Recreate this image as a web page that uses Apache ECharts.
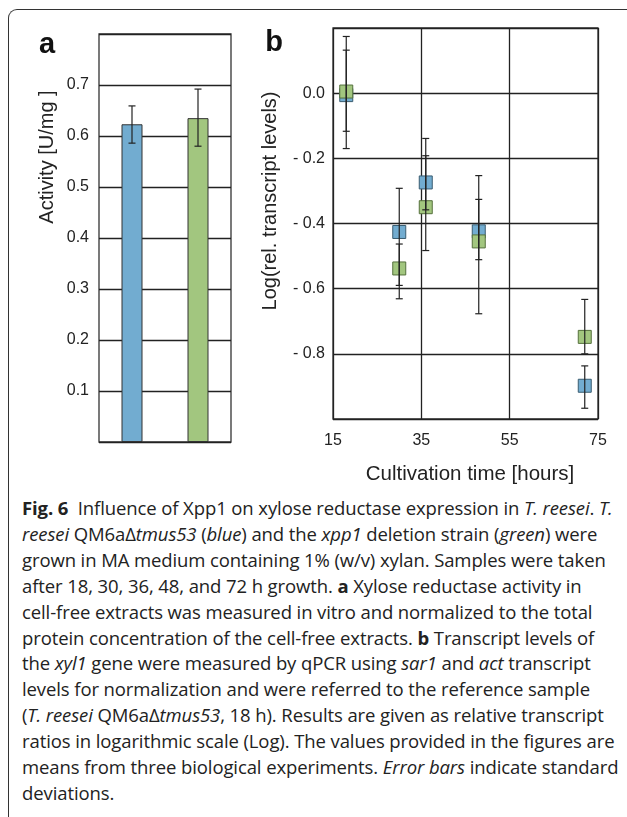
<!DOCTYPE html>
<html>
<head>
<meta charset="utf-8">
<script src="https://cdn.jsdelivr.net/npm/echarts@6/dist/echarts.min.js"></script>
<style>
  html, body { margin: 0; padding: 0; background: #fff; }
  #frame {
    position: absolute; left: 8px; top: 9px; width: 640px; height: 820px;
    border-top: 1.5px solid #333; border-left: 1.5px solid #333;
    border-top-left-radius: 9px;
  }
  #chart { position: absolute; left: 0; top: 0; width: 627px; height: 490px; }
  #caption {
    position: absolute; left: 22px; top: 495px; width: 610px;
    font-family: "Open Sans", sans-serif; font-size: 18.5px; color: #222;
    line-height: 25.9px; white-space: nowrap; letter-spacing: -0.1px;
  }
  #caption b { font-weight: 700; }
</style>
</head>
<body>
<div id="frame"></div>
<div id="chart"></div>
<div id="caption">
  <div><b>Fig. 6</b>&nbsp; Influence of Xpp1 on xylose reductase expression in <i>T. reesei</i>. <i>T.</i></div>
  <div><i>reesei</i> QM6aΔ<i>tmus53</i> (<i>blue</i>) and the <i>xpp1</i> deletion strain (<i>green</i>) were</div>
  <div>grown in MA medium containing 1% (w/v) xylan. Samples were taken</div>
  <div>after 18, 30, 36, 48, and 72 h growth. <b>a</b> Xylose reductase activity in</div>
  <div>cell-free extracts was measured in vitro and normalized to the total</div>
  <div>protein concentration of the cell-free extracts. <b>b</b> Transcript levels of</div>
  <div>the <i>xyl1</i> gene were measured by qPCR using <i>sar1</i> and <i>act</i> transcript</div>
  <div>levels for normalization and were referred to the reference sample</div>
  <div>(<i>T. reesei</i> QM6aΔ<i>tmus53</i>, 18 h). Results are given as relative transcript</div>
  <div>ratios in logarithmic scale (Log). The values provided in the figures are</div>
  <div>means from three biological experiments. <i>Error bars</i> indicate standard</div>
  <div>deviations.</div>
</div>
<script>
// panel a: activity
var strains = ['QM6a Δtmus53', 'Δxpp1'];
var activity = [0.623, 0.635];
var activityLow = [0.586, 0.580];
var activityHigh = [0.659, 0.692];

// panel b: log transcript levels
var hours = [18, 30, 36, 48, 72];
var logBlue = [-0.006, -0.426, -0.274, -0.424, -0.898];
var blueLow = [-0.170, -0.590, -0.358, -0.511, -0.967];
var blueHigh = [0.174, -0.292, -0.192, -0.326, -0.837];
var logGreen = [0.005, -0.538, -0.350, -0.455, -0.748];
var greenLow = [-0.117, -0.631, -0.483, -0.677, -0.800];
var greenHigh = [0.132, -0.463, -0.139, -0.253, -0.633];

var BLUE = '#72acd0';
var GREEN = '#a2c67f';
var FONT = 'Liberation Sans';

var chart = echarts.init(document.getElementById('chart'));

function errBar(capW) {
    return function (params, api) {
        var x = api.value(0);
        var lo = api.coord([x, api.value(1)]);
        var hi = api.coord([x, api.value(2)]);
        var st = { stroke: '#222', lineWidth: 1.2 };
        return {
            type: 'group',
            children: [
                { type: 'line', shape: { x1: lo[0], y1: lo[1], x2: hi[0], y2: hi[1] }, style: st },
                { type: 'line', shape: { x1: lo[0] - capW, y1: lo[1], x2: lo[0] + capW, y2: lo[1] }, style: st },
                { type: 'line', shape: { x1: hi[0] - capW, y1: hi[1], x2: hi[0] + capW, y2: hi[1] }, style: st }
            ]
        };
    };
}

var barData = activity.map(function (v, i) {
    return { value: v, itemStyle: { color: i === 0 ? BLUE : GREEN } };
});
var barErr = activity.map(function (v, i) { return [i, activityLow[i], activityHigh[i]]; });

function pts(ys) { return hours.map(function (h, i) { return [h, ys[i]]; }); }
function errs(lo, hi) { return hours.map(function (h, i) { return [h, lo[i], hi[i]]; }); }

chart.setOption({
    animation: false,
    textStyle: { fontFamily: FONT },
    grid: [
        { left: 99, top: 34, width: 132, height: 408, show: true, borderColor: '#333', borderWidth: 1.3 },
        { left: 333, top: 28, width: 265, height: 392, show: true, borderColor: '#333', borderWidth: 1.3 }
    ],
    xAxis: [
        {
            type: 'category', gridIndex: 0, data: strains,
            axisLine: { show: false }, axisTick: { show: false }, axisLabel: { show: false }
        },
        {
            type: 'value', gridIndex: 1, min: 15, max: 75, interval: 20,
            axisLine: { show: false }, axisTick: { show: false },
            axisLabel: { color: '#222', fontSize: 16, margin: 14, fontFamily: FONT },
            splitLine: { show: true, lineStyle: { color: '#222', width: 1.3 } },
            name: 'Cultivation time [hours]', nameLocation: 'middle', nameGap: 45,
            nameTextStyle: { color: '#222', fontSize: 20.5, fontFamily: FONT, padding: [0, 0, 0, 9] }
        }
    ],
    yAxis: [
        {
            type: 'value', gridIndex: 0, min: 0, max: 0.8, interval: 0.1,
            axisLine: { show: false }, axisTick: { show: false },
            axisLabel: {
                color: '#222', fontSize: 16, margin: 10, fontFamily: FONT,
                formatter: function (v) { return (v < 0.05 || v > 0.75) ? '' : v.toFixed(1); }
            },
            splitLine: { show: true, lineStyle: { color: '#222', width: 1.3 } }
        },
        {
            type: 'value', gridIndex: 1, min: -1.0, max: 0.2, interval: 0.2,
            axisLine: { show: false }, axisTick: { show: false },
            axisLabel: {
                color: '#222', fontSize: 16, margin: 8, fontFamily: FONT,
                formatter: function (v) {
                    if (v < -0.95 || v > 0.1) return '';
                    if (Math.abs(v) < 1e-9) return '0.0';
                    return '- ' + Math.abs(v).toFixed(1);
                }
            },
            splitLine: { show: true, lineStyle: { color: '#222', width: 1.3 } }
        }
    ],
    graphic: [
        {
            type: 'text', x: 47, y: 45,
            style: { text: 'a', font: 'bold 29px ' + FONT, fill: '#111', align: 'center', verticalAlign: 'middle' }
        },
        {
            type: 'text', x: 274, y: 43,
            style: { text: 'b', font: 'bold 29px ' + FONT, fill: '#111', align: 'center', verticalAlign: 'middle' }
        },
        {
            type: 'text', x: 47, y: 157, rotation: Math.PI / 2,
            style: { text: 'Activity [U/mg ]', font: '20px ' + FONT, fill: '#222', align: 'center', verticalAlign: 'middle' }
        },
        {
            type: 'text', x: 270, y: 201, rotation: Math.PI / 2,
            style: { text: 'Log(rel. transcript levels)', font: '20px ' + FONT, fill: '#222', align: 'center', verticalAlign: 'middle' }
        }
    ],
    series: [
        {
            type: 'bar', xAxisIndex: 0, yAxisIndex: 0, data: barData, barWidth: 21,
            itemStyle: { borderColor: '#333', borderWidth: 1 }
        },
        {
            type: 'custom', xAxisIndex: 0, yAxisIndex: 0, data: barErr, z: 5,
            renderItem: errBar(3.5), encode: { x: 0, y: [1, 2] }
        },
        {
            type: 'scatter', xAxisIndex: 1, yAxisIndex: 1, data: pts(logBlue),
            symbol: 'rect', symbolSize: 13,
            itemStyle: { color: BLUE, borderColor: '#3a5c70', borderWidth: 1, opacity: 1 }
        },
        {
            type: 'scatter', xAxisIndex: 1, yAxisIndex: 1, data: pts(logGreen),
            symbol: 'rect', symbolSize: 13,
            itemStyle: { color: GREEN, borderColor: '#55703c', borderWidth: 1, opacity: 1 }
        },
        {
            type: 'custom', xAxisIndex: 1, yAxisIndex: 1, data: errs(blueLow, blueHigh), z: 5,
            renderItem: errBar(3.5), encode: { x: 0, y: [1, 2] }
        },
        {
            type: 'custom', xAxisIndex: 1, yAxisIndex: 1, data: errs(greenLow, greenHigh), z: 5,
            renderItem: errBar(3.5), encode: { x: 0, y: [1, 2] }
        }
    ]
});
</script>
</body>
</html>
